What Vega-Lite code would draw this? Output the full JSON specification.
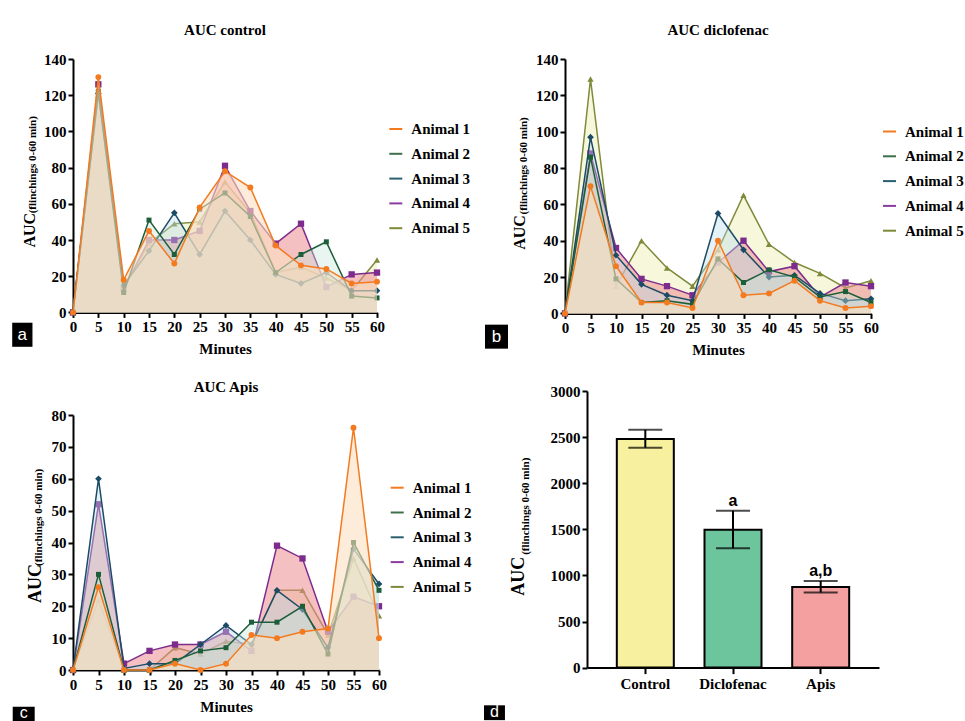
{
"$schema":"https://vega.github.io/schema/vega-lite/v6.json",
"background":"white",
"padding":{"left":12,"top":23,"right":0,"bottom":0},
"config":{
"view":{"stroke":null},
"axis":{"labelFont":"Liberation Serif","labelFontWeight":"bold","labelFontSize":15,"labelColor":"#000","titleFont":"Liberation Serif","titleFontWeight":"bold","titleFontSize":15,"titleColor":"#000","domainColor":"#000","domainWidth":2,"tickColor":"#000","tickWidth":2,"tickSize":5,"labelPadding":2,"grid":false,"titlePadding":6,"labelFlush":false,"labelOverlap":false},
"legend":{"labelFont":"Liberation Serif","labelFontWeight":"bold","labelFontSize":15,"labelColor":"#000","symbolType":"stroke","symbolStrokeWidth":2,"symbolSize":169,"rowPadding":8.8,"labelOffset":8,"padding":0},
"title":{"font":"Liberation Serif","fontWeight":"bold","fontSize":15,"color":"#000","frame":"group","anchor":"middle","offset":14}
},
"datasets":{
"auc":[
{"p":"a","animal":"Animal 1","t":0,"v":0},{"p":"a","animal":"Animal 1","t":5,"v":130},{"p":"a","animal":"Animal 1","t":10,"v":18},{"p":"a","animal":"Animal 1","t":15,"v":45},{"p":"a","animal":"Animal 1","t":20,"v":27},{"p":"a","animal":"Animal 1","t":25,"v":58},{"p":"a","animal":"Animal 1","t":30,"v":78},{"p":"a","animal":"Animal 1","t":35,"v":69},{"p":"a","animal":"Animal 1","t":40,"v":37},{"p":"a","animal":"Animal 1","t":45,"v":26},{"p":"a","animal":"Animal 1","t":50,"v":24},{"p":"a","animal":"Animal 1","t":55,"v":16},{"p":"a","animal":"Animal 1","t":60,"v":17},
{"p":"a","animal":"Animal 2","t":0,"v":0},{"p":"a","animal":"Animal 2","t":5,"v":122},{"p":"a","animal":"Animal 2","t":10,"v":11},{"p":"a","animal":"Animal 2","t":15,"v":51},{"p":"a","animal":"Animal 2","t":20,"v":32},{"p":"a","animal":"Animal 2","t":25,"v":57},{"p":"a","animal":"Animal 2","t":30,"v":66},{"p":"a","animal":"Animal 2","t":35,"v":53},{"p":"a","animal":"Animal 2","t":40,"v":22},{"p":"a","animal":"Animal 2","t":45,"v":32},{"p":"a","animal":"Animal 2","t":50,"v":39},{"p":"a","animal":"Animal 2","t":55,"v":9},{"p":"a","animal":"Animal 2","t":60,"v":8},
{"p":"a","animal":"Animal 3","t":0,"v":0},{"p":"a","animal":"Animal 3","t":5,"v":121},{"p":"a","animal":"Animal 3","t":10,"v":15},{"p":"a","animal":"Animal 3","t":15,"v":34},{"p":"a","animal":"Animal 3","t":20,"v":55},{"p":"a","animal":"Animal 3","t":25,"v":32},{"p":"a","animal":"Animal 3","t":30,"v":56},{"p":"a","animal":"Animal 3","t":35,"v":40},{"p":"a","animal":"Animal 3","t":40,"v":21},{"p":"a","animal":"Animal 3","t":45,"v":16},{"p":"a","animal":"Animal 3","t":50,"v":22},{"p":"a","animal":"Animal 3","t":55,"v":12},{"p":"a","animal":"Animal 3","t":60,"v":12},
{"p":"a","animal":"Animal 4","t":0,"v":0},{"p":"a","animal":"Animal 4","t":5,"v":126},{"p":"a","animal":"Animal 4","t":10,"v":13},{"p":"a","animal":"Animal 4","t":15,"v":40},{"p":"a","animal":"Animal 4","t":20,"v":40},{"p":"a","animal":"Animal 4","t":25,"v":45},{"p":"a","animal":"Animal 4","t":30,"v":81},{"p":"a","animal":"Animal 4","t":35,"v":56},{"p":"a","animal":"Animal 4","t":40,"v":38},{"p":"a","animal":"Animal 4","t":45,"v":49},{"p":"a","animal":"Animal 4","t":50,"v":14},{"p":"a","animal":"Animal 4","t":55,"v":21},{"p":"a","animal":"Animal 4","t":60,"v":22},
{"p":"a","animal":"Animal 5","t":0,"v":0},{"p":"a","animal":"Animal 5","t":5,"v":120},{"p":"a","animal":"Animal 5","t":10,"v":14},{"p":"a","animal":"Animal 5","t":15,"v":38},{"p":"a","animal":"Animal 5","t":20,"v":49},{"p":"a","animal":"Animal 5","t":25,"v":50},{"p":"a","animal":"Animal 5","t":30,"v":72},{"p":"a","animal":"Animal 5","t":35,"v":55},{"p":"a","animal":"Animal 5","t":40,"v":22},{"p":"a","animal":"Animal 5","t":45,"v":25},{"p":"a","animal":"Animal 5","t":50,"v":19},{"p":"a","animal":"Animal 5","t":55,"v":12},{"p":"a","animal":"Animal 5","t":60,"v":29},
{"p":"b","animal":"Animal 1","t":0,"v":0},{"p":"b","animal":"Animal 1","t":5,"v":70},{"p":"b","animal":"Animal 1","t":10,"v":26},{"p":"b","animal":"Animal 1","t":15,"v":6},{"p":"b","animal":"Animal 1","t":20,"v":6},{"p":"b","animal":"Animal 1","t":25,"v":3},{"p":"b","animal":"Animal 1","t":30,"v":40},{"p":"b","animal":"Animal 1","t":35,"v":10},{"p":"b","animal":"Animal 1","t":40,"v":11},{"p":"b","animal":"Animal 1","t":45,"v":18},{"p":"b","animal":"Animal 1","t":50,"v":7},{"p":"b","animal":"Animal 1","t":55,"v":3},{"p":"b","animal":"Animal 1","t":60,"v":4},
{"p":"b","animal":"Animal 2","t":0,"v":0},{"p":"b","animal":"Animal 2","t":5,"v":86},{"p":"b","animal":"Animal 2","t":10,"v":19},{"p":"b","animal":"Animal 2","t":15,"v":6},{"p":"b","animal":"Animal 2","t":20,"v":7},{"p":"b","animal":"Animal 2","t":25,"v":5},{"p":"b","animal":"Animal 2","t":30,"v":30},{"p":"b","animal":"Animal 2","t":35,"v":17},{"p":"b","animal":"Animal 2","t":40,"v":24},{"p":"b","animal":"Animal 2","t":45,"v":20},{"p":"b","animal":"Animal 2","t":50,"v":9},{"p":"b","animal":"Animal 2","t":55,"v":12},{"p":"b","animal":"Animal 2","t":60,"v":6},
{"p":"b","animal":"Animal 3","t":0,"v":0},{"p":"b","animal":"Animal 3","t":5,"v":97},{"p":"b","animal":"Animal 3","t":10,"v":32},{"p":"b","animal":"Animal 3","t":15,"v":16},{"p":"b","animal":"Animal 3","t":20,"v":10},{"p":"b","animal":"Animal 3","t":25,"v":7},{"p":"b","animal":"Animal 3","t":30,"v":55},{"p":"b","animal":"Animal 3","t":35,"v":35},{"p":"b","animal":"Animal 3","t":40,"v":20},{"p":"b","animal":"Animal 3","t":45,"v":21},{"p":"b","animal":"Animal 3","t":50,"v":11},{"p":"b","animal":"Animal 3","t":55,"v":7},{"p":"b","animal":"Animal 3","t":60,"v":8},
{"p":"b","animal":"Animal 4","t":0,"v":0},{"p":"b","animal":"Animal 4","t":5,"v":88},{"p":"b","animal":"Animal 4","t":10,"v":36},{"p":"b","animal":"Animal 4","t":15,"v":19},{"p":"b","animal":"Animal 4","t":20,"v":15},{"p":"b","animal":"Animal 4","t":25,"v":10},{"p":"b","animal":"Animal 4","t":30,"v":28},{"p":"b","animal":"Animal 4","t":35,"v":40},{"p":"b","animal":"Animal 4","t":40,"v":23},{"p":"b","animal":"Animal 4","t":45,"v":26},{"p":"b","animal":"Animal 4","t":50,"v":9},{"p":"b","animal":"Animal 4","t":55,"v":17},{"p":"b","animal":"Animal 4","t":60,"v":15},
{"p":"b","animal":"Animal 5","t":0,"v":0},{"p":"b","animal":"Animal 5","t":5,"v":129},{"p":"b","animal":"Animal 5","t":10,"v":15},{"p":"b","animal":"Animal 5","t":15,"v":40},{"p":"b","animal":"Animal 5","t":20,"v":25},{"p":"b","animal":"Animal 5","t":25,"v":15},{"p":"b","animal":"Animal 5","t":30,"v":35},{"p":"b","animal":"Animal 5","t":35,"v":65},{"p":"b","animal":"Animal 5","t":40,"v":38},{"p":"b","animal":"Animal 5","t":45,"v":28},{"p":"b","animal":"Animal 5","t":50,"v":22},{"p":"b","animal":"Animal 5","t":55,"v":14},{"p":"b","animal":"Animal 5","t":60,"v":18},
{"p":"c","animal":"Animal 1","t":0,"v":0},{"p":"c","animal":"Animal 1","t":5,"v":26},{"p":"c","animal":"Animal 1","t":10,"v":0},{"p":"c","animal":"Animal 1","t":15,"v":0},{"p":"c","animal":"Animal 1","t":20,"v":2},{"p":"c","animal":"Animal 1","t":25,"v":0},{"p":"c","animal":"Animal 1","t":30,"v":2},{"p":"c","animal":"Animal 1","t":35,"v":11},{"p":"c","animal":"Animal 1","t":40,"v":10},{"p":"c","animal":"Animal 1","t":45,"v":12},{"p":"c","animal":"Animal 1","t":50,"v":13},{"p":"c","animal":"Animal 1","t":55,"v":76},{"p":"c","animal":"Animal 1","t":60,"v":10},
{"p":"c","animal":"Animal 2","t":0,"v":0},{"p":"c","animal":"Animal 2","t":5,"v":30},{"p":"c","animal":"Animal 2","t":10,"v":0},{"p":"c","animal":"Animal 2","t":15,"v":0},{"p":"c","animal":"Animal 2","t":20,"v":3},{"p":"c","animal":"Animal 2","t":25,"v":6},{"p":"c","animal":"Animal 2","t":30,"v":7},{"p":"c","animal":"Animal 2","t":35,"v":15},{"p":"c","animal":"Animal 2","t":40,"v":15},{"p":"c","animal":"Animal 2","t":45,"v":20},{"p":"c","animal":"Animal 2","t":50,"v":5},{"p":"c","animal":"Animal 2","t":55,"v":40},{"p":"c","animal":"Animal 2","t":60,"v":25},
{"p":"c","animal":"Animal 3","t":0,"v":0},{"p":"c","animal":"Animal 3","t":5,"v":60},{"p":"c","animal":"Animal 3","t":10,"v":0.5},{"p":"c","animal":"Animal 3","t":15,"v":2},{"p":"c","animal":"Animal 3","t":20,"v":2},{"p":"c","animal":"Animal 3","t":25,"v":8},{"p":"c","animal":"Animal 3","t":30,"v":14},{"p":"c","animal":"Animal 3","t":35,"v":8},{"p":"c","animal":"Animal 3","t":40,"v":25},{"p":"c","animal":"Animal 3","t":45,"v":19},{"p":"c","animal":"Animal 3","t":50,"v":7},{"p":"c","animal":"Animal 3","t":55,"v":38},{"p":"c","animal":"Animal 3","t":60,"v":27},
{"p":"c","animal":"Animal 4","t":0,"v":0},{"p":"c","animal":"Animal 4","t":5,"v":52},{"p":"c","animal":"Animal 4","t":10,"v":2},{"p":"c","animal":"Animal 4","t":15,"v":6},{"p":"c","animal":"Animal 4","t":20,"v":8},{"p":"c","animal":"Animal 4","t":25,"v":8},{"p":"c","animal":"Animal 4","t":30,"v":12},{"p":"c","animal":"Animal 4","t":35,"v":6},{"p":"c","animal":"Animal 4","t":40,"v":39},{"p":"c","animal":"Animal 4","t":45,"v":35},{"p":"c","animal":"Animal 4","t":50,"v":12},{"p":"c","animal":"Animal 4","t":55,"v":23},{"p":"c","animal":"Animal 4","t":60,"v":20},
{"p":"c","animal":"Animal 5","t":0,"v":0},{"p":"c","animal":"Animal 5","t":5,"v":22},{"p":"c","animal":"Animal 5","t":10,"v":0},{"p":"c","animal":"Animal 5","t":15,"v":0},{"p":"c","animal":"Animal 5","t":20,"v":7},{"p":"c","animal":"Animal 5","t":25,"v":5},{"p":"c","animal":"Animal 5","t":30,"v":9},{"p":"c","animal":"Animal 5","t":35,"v":8},{"p":"c","animal":"Animal 5","t":40,"v":25},{"p":"c","animal":"Animal 5","t":45,"v":25},{"p":"c","animal":"Animal 5","t":50,"v":11},{"p":"c","animal":"Animal 5","t":55,"v":35},{"p":"c","animal":"Animal 5","t":60,"v":17}
],
"bars":[
{"group":"Control","mean":2480,"lo":2385,"hi":2580,"sig":""},
{"group":"Diclofenac","mean":1495,"lo":1295,"hi":1700,"sig":"a"},
{"group":"Apis","mean":875,"lo":815,"hi":940,"sig":"a,b"}
]
},
"resolve":{"scale":{"x":"independent","y":"independent","color":"independent"}},
"columns":2,
"align":"none",
"spacing":{"row":22,"column":12},
"concat":[
{"width":304,"height":253.4,"title":{"text":"AUC control"},
"resolve":{"scale":{"x":"independent","y":"independent"}},
"layer":[
{"data":{"name":"auc"},
"encoding":{"x":{"field":"t","type":"quantitative","scale":{"domain":[0,60],"nice":false,"zero":false},"axis":{"values":[0,5,10,15,20,25,30,35,40,45,50,55,60],"title":"Minutes","titlePadding":7}},
"y":{"field":"v","type":"quantitative","scale":{"domain":[0,140],"nice":false},"axis":{"values":[0,20,40,60,80,100,120,140],"title":null}}},
"layer":[
{"transform":[{"filter":"datum.p=='a' && datum.animal=='Animal 5'"}],"mark":{"type":"area","color":"#F0F0BA","opacity":0.5,"line":{"color":"#7F8A3A","strokeWidth":1.5},"point":{"color":"#7F8A3A","shape":"triangle-up","size":40,"filled":true}}},
{"transform":[{"filter":"datum.p=='a' && datum.animal=='Animal 4'"}],"mark":{"type":"area","color":"#EC8C90","opacity":0.55,"line":{"color":"#7D2B8D","strokeWidth":1.5},"point":{"color":"#7D2B8D","shape":"square","size":40,"filled":true}}},
{"transform":[{"filter":"datum.p=='a' && datum.animal=='Animal 3'"}],"mark":{"type":"area","color":"#BCDDEC","opacity":0.4,"line":{"color":"#1B4B66","strokeWidth":1.5},"point":{"color":"#1B4B66","shape":"diamond","size":45,"filled":true}}},
{"transform":[{"filter":"datum.p=='a' && datum.animal=='Animal 2'"}],"mark":{"type":"area","color":"#C6E6DA","opacity":0.4,"line":{"color":"#1D5E3A","strokeWidth":1.5},"point":{"color":"#1D5E3A","shape":"square","size":25,"filled":true}}},
{"transform":[{"filter":"datum.p=='a' && datum.animal=='Animal 1'"}],"mark":{"type":"area","color":"#FADFC0","opacity":0.6,"line":{"color":"#F47A20","strokeWidth":1.5},"point":{"color":"#F47A20","shape":"circle","size":35,"filled":true}}},
{"transform":[{"filter":"datum.p=='a' && datum.t==0"}],"mark":{"type":"line"},"encoding":{"color":{"field":"animal","type":"nominal","scale":{"domain":["Animal 1","Animal 2","Animal 3","Animal 4","Animal 5"],"range":["#F47A20","#3D7048","#2A5F70","#8A3C9E","#7F8A3A"]},"legend":{"title":null,"orient":"none","legendX":315.3,"legendY":62.5,"labelExpr":"datum.label=='Animal 2'||datum.label=='Animal 3' ? '\u00a0'+datum.label : datum.label"}}}}
]},
{"layer":[
{"data":{"values":[{"s":"AUC"}]},"mark":{"type":"text","angle":270,"font":"Liberation Serif","fontWeight":"bold","fontSize":16,"align":"center","baseline":"middle","color":"#000"},"encoding":{"x":{"datum":-8.5,"type":"quantitative","scale":{"domain":[0,60],"nice":false,"zero":false},"axis":null},"y":{"datum":45.4,"type":"quantitative","scale":{"domain":[0,140],"nice":false},"axis":null},"text":{"field":"s"}}},
{"data":{"values":[{"s":"(flinchings 0-60 min)"}]},"mark":{"type":"text","angle":270,"font":"Liberation Serif","fontWeight":"bold","fontSize":11,"align":"center","baseline":"middle","color":"#000"},"encoding":{"x":{"datum":-7.9,"type":"quantitative","scale":{"domain":[0,60],"nice":false,"zero":false},"axis":null},"y":{"datum":81.6,"type":"quantitative","scale":{"domain":[0,140],"nice":false},"axis":null},"text":{"field":"s"}}},
{"data":{"values":[{"s":"a"}]},"mark":{"type":"rect","color":"#000"},"encoding":{"x":{"datum":-12.0,"type":"quantitative","scale":{"domain":[0,60],"nice":false,"zero":false},"axis":null},"x2":{"datum":-8.0},"y":{"datum":-5.7,"type":"quantitative","scale":{"domain":[0,140],"nice":false},"axis":null},"y2":{"datum":-19.0}}},
{"data":{"values":[{"s":"a"}]},"mark":{"type":"text","font":"Liberation Sans","fontSize":17,"align":"center","baseline":"middle","color":"#fff"},"encoding":{"x":{"datum":-10.0,"type":"quantitative","scale":{"domain":[0,60],"nice":false,"zero":false},"axis":null},"y":{"datum":-12.3,"type":"quantitative","scale":{"domain":[0,140],"nice":false},"axis":null},"text":{"field":"s"}}}
]}
]},
{"width":306,"height":254.4,"title":{"text":"AUC diclofenac"},
"resolve":{"scale":{"x":"independent","y":"independent"}},
"layer":[
{"data":{"name":"auc"},
"encoding":{"x":{"field":"t","type":"quantitative","scale":{"domain":[0,60],"nice":false,"zero":false},"axis":{"values":[0,5,10,15,20,25,30,35,40,45,50,55,60],"title":"Minutes","titlePadding":7}},
"y":{"field":"v","type":"quantitative","scale":{"domain":[0,140],"nice":false},"axis":{"values":[0,20,40,60,80,100,120,140],"title":null}}},
"layer":[
{"transform":[{"filter":"datum.p=='b' && datum.animal=='Animal 5'"}],"mark":{"type":"area","color":"#F0F0BA","opacity":0.5,"line":{"color":"#7F8A3A","strokeWidth":1.5},"point":{"color":"#7F8A3A","shape":"triangle-up","size":40,"filled":true}}},
{"transform":[{"filter":"datum.p=='b' && datum.animal=='Animal 4'"}],"mark":{"type":"area","color":"#EC8C90","opacity":0.55,"line":{"color":"#7D2B8D","strokeWidth":1.5},"point":{"color":"#7D2B8D","shape":"square","size":40,"filled":true}}},
{"transform":[{"filter":"datum.p=='b' && datum.animal=='Animal 3'"}],"mark":{"type":"area","color":"#BCDDEC","opacity":0.4,"line":{"color":"#1B4B66","strokeWidth":1.5},"point":{"color":"#1B4B66","shape":"diamond","size":45,"filled":true}}},
{"transform":[{"filter":"datum.p=='b' && datum.animal=='Animal 2'"}],"mark":{"type":"area","color":"#C6E6DA","opacity":0.4,"line":{"color":"#1D5E3A","strokeWidth":1.5},"point":{"color":"#1D5E3A","shape":"square","size":25,"filled":true}}},
{"transform":[{"filter":"datum.p=='b' && datum.animal=='Animal 1'"}],"mark":{"type":"area","color":"#FADFC0","opacity":0.6,"line":{"color":"#F47A20","strokeWidth":1.5},"point":{"color":"#F47A20","shape":"circle","size":35,"filled":true}}},
{"transform":[{"filter":"datum.p=='b' && datum.t==0"}],"mark":{"type":"line"},"encoding":{"color":{"field":"animal","type":"nominal","scale":{"domain":["Animal 1","Animal 2","Animal 3","Animal 4","Animal 5"],"range":["#F47A20","#3D7048","#2A5F70","#8A3C9E","#7F8A3A"]},"legend":{"title":null,"orient":"none","legendX":317,"legendY":65,"labelExpr":"datum.label=='Animal 2'||datum.label=='Animal 3' ? '\u00a0'+datum.label : datum.label"}}}}
]},
{"layer":[
{"data":{"values":[{"s":"AUC"}]},"mark":{"type":"text","angle":270,"font":"Liberation Serif","fontWeight":"bold","fontSize":16,"align":"center","baseline":"middle","color":"#000"},"encoding":{"x":{"datum":-8.73,"type":"quantitative","scale":{"domain":[0,60],"nice":false,"zero":false},"axis":null},"y":{"datum":44.5,"type":"quantitative","scale":{"domain":[0,140],"nice":false},"axis":null},"text":{"field":"s"}}},
{"data":{"values":[{"s":"(flinchings 0-60 min)"}]},"mark":{"type":"text","angle":270,"font":"Liberation Serif","fontWeight":"bold","fontSize":11,"align":"center","baseline":"middle","color":"#000"},"encoding":{"x":{"datum":-8.04,"type":"quantitative","scale":{"domain":[0,60],"nice":false,"zero":false},"axis":null},"y":{"datum":81.2,"type":"quantitative","scale":{"domain":[0,140],"nice":false},"axis":null},"text":{"field":"s"}}},
{"data":{"values":[{"s":"b"}]},"mark":{"type":"rect","color":"#000"},"encoding":{"x":{"datum":-15.69,"type":"quantitative","scale":{"domain":[0,60],"nice":false,"zero":false},"axis":null},"x2":{"datum":-11.18},"y":{"datum":-6.2,"type":"quantitative","scale":{"domain":[0,140],"nice":false},"axis":null},"y2":{"datum":-19.4}}},
{"data":{"values":[{"s":"b"}]},"mark":{"type":"text","font":"Liberation Sans","fontSize":17,"align":"center","baseline":"middle","color":"#fff"},"encoding":{"x":{"datum":-13.43,"type":"quantitative","scale":{"domain":[0,60],"nice":false,"zero":false},"axis":null},"y":{"datum":-12.8,"type":"quantitative","scale":{"domain":[0,140],"nice":false},"axis":null},"text":{"field":"s"}}}
]}
]},
{"width":306,"height":255,"title":{"text":"AUC Apis","offset":13},
"resolve":{"scale":{"x":"independent","y":"independent"}},
"layer":[
{"data":{"name":"auc"},
"encoding":{"x":{"field":"t","type":"quantitative","scale":{"domain":[0,60],"nice":false,"zero":false},"axis":{"values":[0,5,10,15,20,25,30,35,40,45,50,55,60],"title":"Minutes","titlePadding":7}},
"y":{"field":"v","type":"quantitative","scale":{"domain":[0,80],"nice":false},"axis":{"values":[0,10,20,30,40,50,60,70,80],"title":null}}},
"layer":[
{"transform":[{"filter":"datum.p=='c' && datum.animal=='Animal 5'"}],"mark":{"type":"area","color":"#F0F0BA","opacity":0.5,"line":{"color":"#7F8A3A","strokeWidth":1.5},"point":{"color":"#7F8A3A","shape":"triangle-up","size":40,"filled":true}}},
{"transform":[{"filter":"datum.p=='c' && datum.animal=='Animal 4'"}],"mark":{"type":"area","color":"#EC8C90","opacity":0.55,"line":{"color":"#7D2B8D","strokeWidth":1.5},"point":{"color":"#7D2B8D","shape":"square","size":40,"filled":true}}},
{"transform":[{"filter":"datum.p=='c' && datum.animal=='Animal 3'"}],"mark":{"type":"area","color":"#BCDDEC","opacity":0.4,"line":{"color":"#1B4B66","strokeWidth":1.5},"point":{"color":"#1B4B66","shape":"diamond","size":45,"filled":true}}},
{"transform":[{"filter":"datum.p=='c' && datum.animal=='Animal 2'"}],"mark":{"type":"area","color":"#C6E6DA","opacity":0.4,"line":{"color":"#1D5E3A","strokeWidth":1.5},"point":{"color":"#1D5E3A","shape":"square","size":25,"filled":true}}},
{"transform":[{"filter":"datum.p=='c' && datum.animal=='Animal 1'"}],"mark":{"type":"area","color":"#FADFC0","opacity":0.6,"line":{"color":"#F47A20","strokeWidth":1.5},"point":{"color":"#F47A20","shape":"circle","size":35,"filled":true}}},
{"transform":[{"filter":"datum.p=='c' && datum.t==0"}],"mark":{"type":"line"},"encoding":{"color":{"field":"animal","type":"nominal","scale":{"domain":["Animal 1","Animal 2","Animal 3","Animal 4","Animal 5"],"range":["#F47A20","#3D7048","#2A5F70","#8A3C9E","#7F8A3A"]},"legend":{"title":null,"orient":"none","legendX":316.7,"legendY":65.2,"labelExpr":"datum.label=='Animal 2'||datum.label=='Animal 3' ? '\u00a0'+datum.label : datum.label"}}}}
]},
{"layer":[
{"data":{"values":[{"s":"AUC"}]},"mark":{"type":"text","angle":270,"font":"Liberation Serif","fontWeight":"bold","fontSize":18,"align":"center","baseline":"middle","color":"#000"},"encoding":{"x":{"datum":-7.31,"type":"quantitative","scale":{"domain":[0,60],"nice":false,"zero":false},"axis":null},"y":{"datum":27.1,"type":"quantitative","scale":{"domain":[0,80],"nice":false},"axis":null},"text":{"field":"s"}}},
{"data":{"values":[{"s":"(flinchings 0-60 min)"}]},"mark":{"type":"text","angle":270,"font":"Liberation Serif","fontWeight":"bold","fontSize":11,"align":"center","baseline":"middle","color":"#000"},"encoding":{"x":{"datum":-6.63,"type":"quantitative","scale":{"domain":[0,60],"nice":false,"zero":false},"axis":null},"y":{"datum":47.9,"type":"quantitative","scale":{"domain":[0,80],"nice":false},"axis":null},"text":{"field":"s"}}},
{"data":{"values":[{"s":"c"}]},"mark":{"type":"rect","color":"#000"},"encoding":{"x":{"datum":-11.82,"type":"quantitative","scale":{"domain":[0,60],"nice":false,"zero":false},"axis":null},"x2":{"datum":-7.51},"y":{"datum":-11.5,"type":"quantitative","scale":{"domain":[0,80],"nice":false},"axis":null},"y2":{"datum":-16.0}}},
{"data":{"values":[{"s":"c"}]},"mark":{"type":"text","font":"Liberation Sans","fontSize":16,"align":"center","baseline":"middle","color":"#fff"},"encoding":{"x":{"datum":-9.67,"type":"quantitative","scale":{"domain":[0,60],"nice":false,"zero":false},"axis":null},"y":{"datum":-13.6,"type":"quantitative","scale":{"domain":[0,80],"nice":false},"axis":null},"text":{"field":"s"}}}
]}
]},
{"width":292,"height":276.6,
"resolve":{"scale":{"x":"independent","y":"independent"}},
"layer":[
{"data":{"name":"bars"},
"encoding":{"x":{"field":"group","type":"nominal","sort":["Control","Diclofenac","Apis"],"scale":{"paddingInner":0.35,"paddingOuter":0.34},"axis":{"title":null,"labelAngle":0,"tickSize":6,"labelPadding":3}}},
"layer":[
{"mark":{"type":"bar","stroke":"#000","strokeWidth":2},"encoding":{"y":{"field":"mean","type":"quantitative","scale":{"domain":[0,3000],"nice":false},"axis":{"values":[0,500,1000,1500,2000,2500,3000],"format":"d","title":null}},"color":{"field":"group","type":"nominal","scale":{"domain":["Control","Diclofenac","Apis"],"range":["#F7F19F","#6CC59C","#F4A0A1"]},"legend":null}}},
{"mark":{"type":"errorbar","ticks":{"size":34},"thickness":2,"color":"#000"},"encoding":{"y":{"field":"lo","type":"quantitative"},"y2":{"field":"hi"}}},
{"mark":{"type":"text","font":"Liberation Sans","fontWeight":"bold","fontSize":16,"align":"center","baseline":"middle","dy":-10,"color":"#000"},"encoding":{"y":{"field":"hi","type":"quantitative"},"text":{"field":"sig"}}}
]},
{"layer":[
{"data":{"values":[{"s":"\u00a0"}]},"mark":{"type":"text","fontSize":10,"baseline":"top","align":"center","color":"#fff"},"encoding":{"x":{"datum":0.5,"type":"quantitative","scale":{"domain":[0,1],"nice":false,"zero":false},"axis":null},"y":{"datum":3110,"type":"quantitative","scale":{"domain":[0,3000],"nice":false},"axis":null},"text":{"field":"s"}}},
{"data":{"values":[{"s":"d"}]},"mark":{"type":"rect","color":"#000"},"encoding":{"x":{"datum":-0.3527,"type":"quantitative","scale":{"domain":[0,1],"nice":false,"zero":false},"axis":null},"x2":{"datum":-0.281},"y":{"datum":-409,"type":"quantitative","scale":{"domain":[0,3000],"nice":false},"axis":null},"y2":{"datum":-570}}},
{"data":{"values":[{"s":"d"}]},"mark":{"type":"text","font":"Liberation Sans","fontSize":16,"align":"center","baseline":"middle","color":"#fff"},"encoding":{"x":{"datum":-0.317,"type":"quantitative","scale":{"domain":[0,1],"nice":false,"zero":false},"axis":null},"y":{"datum":-485,"type":"quantitative","scale":{"domain":[0,3000],"nice":false},"axis":null},"text":{"field":"s"}}},
{"data":{"values":[{"s":"AUC"}]},"mark":{"type":"text","angle":270,"font":"Liberation Serif","fontWeight":"bold","fontSize":18,"align":"center","baseline":"middle","color":"#000"},"encoding":{"x":{"datum":-0.233,"type":"quantitative","scale":{"domain":[0,1],"nice":false,"zero":false},"axis":null},"y":{"datum":990,"type":"quantitative","scale":{"domain":[0,3000],"nice":false},"axis":null},"text":{"field":"s"}}},
{"data":{"values":[{"s":"(flinchings 0-60 min)"}]},"mark":{"type":"text","angle":270,"font":"Liberation Serif","fontWeight":"bold","fontSize":11,"align":"center","baseline":"middle","color":"#000"},"encoding":{"x":{"datum":-0.209,"type":"quantitative","scale":{"domain":[0,1],"nice":false,"zero":false},"axis":null},"y":{"datum":1750,"type":"quantitative","scale":{"domain":[0,3000],"nice":false},"axis":null},"text":{"field":"s"}}}
]}
]}
]
}
